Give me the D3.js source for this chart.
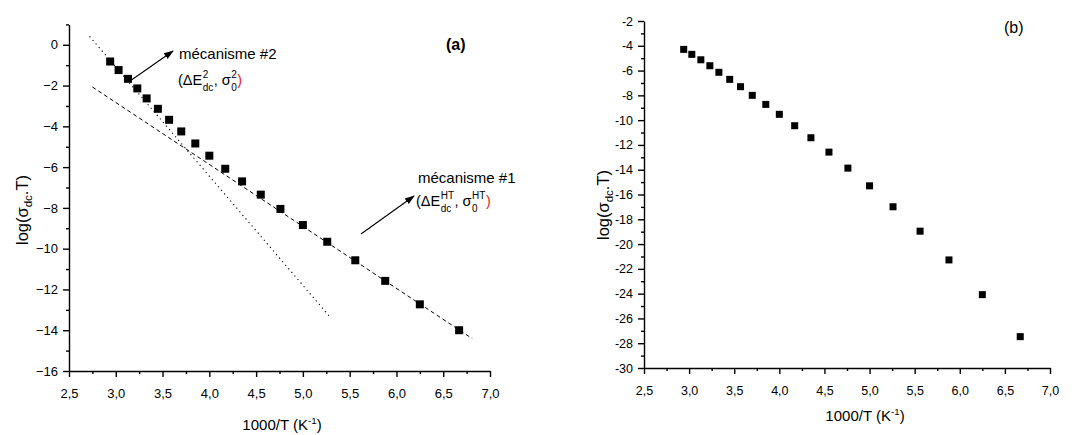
<!DOCTYPE html>
<html>
<head>
<meta charset="utf-8">
<script src="https://cdnjs.cloudflare.com/ajax/libs/d3/7.8.5/d3.min.js"></script>
<style>
  body { margin: 0; background: #fff; }
  svg text { font-family: "Liberation Sans", Arial, sans-serif; fill: #000; }
</style>
</head>
<body>
<div id="chart"></div>
<script>
// 1000/T values (K^-1), shared by both panels
const invT = [2.94, 3.03, 3.13, 3.23, 3.33, 3.45, 3.57, 3.70, 3.85, 4.00,
              4.17, 4.35, 4.55, 4.76, 5.00, 5.26, 5.56, 5.88, 6.25, 6.67];

// panel (a) log(sigma_dc.T)
const logA = [-0.82, -1.24, -1.67, -2.14, -2.63, -3.14, -3.68, -4.25, -4.84, -5.44,
              -6.08, -6.70, -7.35, -8.05, -8.84, -9.66, -10.57, -11.58, -12.73, -14.00];

// panel (b) log(sigma_dc.T)
const logB = [-4.29, -4.69, -5.13, -5.61, -6.14, -6.71, -7.30, -8.00, -8.73, -9.53,
              -10.45, -11.42, -12.58, -13.87, -15.30, -16.99, -18.96, -21.28, -24.08, -27.47];

// fitted straight lines in panel (a), end points
const mech1X = [2.75, 6.81];
const mech1Y = [-2.07, -14.41];
const mech2X = [2.72, 5.29];
const mech2Y = [0.41, -13.35];

const xTicks = [2.5, 3.0, 3.5, 4.0, 4.5, 5.0, 5.5, 6.0, 6.5, 7.0];
const xMinor = [2.75, 3.25, 3.75, 4.25, 4.75, 5.25, 5.75, 6.25, 6.75];
const yTicksA = [0, -2, -4, -6, -8, -10, -12, -14, -16];
const yMinorA = [1, -1, -3, -5, -7, -9, -11, -13, -15];
const yTicksB = [-2, -4, -6, -8, -10, -12, -14, -16, -18, -20, -22, -24, -26, -28, -30];
const yMinorB = [-3, -5, -7, -9, -11, -13, -15, -17, -19, -21, -23, -25, -27, -29];

const W = 1083, H = 435;
const svg = d3.select('#chart').append('svg').attr('width', W).attr('height', H);

svg.append('defs').append('marker')
  .attr('id', 'arrow')
  .attr('viewBox', '0 0 10 10')
  .attr('refX', 9).attr('refY', 5)
  .attr('markerWidth', 10).attr('markerHeight', 10)
  .attr('markerUnits', 'userSpaceOnUse')
  .attr('orient', 'auto')
  .append('path').attr('d', 'M0,1.5 L10,5 L0,8.5 Z').attr('fill', '#000');

const commaFmt = d => d3.format('.1f')(d).replace('.', ',');
const minusFmt = d => String(d).replace('-', '\u2212');
const intFmt = d => String(d);

function drawAxes(x, y, yMajor, yMinor, fontSize, yFmt) {
  const gx = svg.append('g').attr('transform', `translate(0,${y.range()[0]})`);
  gx.call(d3.axisBottom(x).tickValues(xTicks).tickFormat(commaFmt)
    .tickSize(6).tickSizeOuter(0).tickPadding(12));
  gx.append('g').call(d3.axisBottom(x).tickValues(xMinor).tickFormat('').tickSize(3))
    .select('.domain').remove();

  const gy = svg.append('g').attr('transform', `translate(${x.range()[0]},0)`);
  gy.call(d3.axisLeft(y).tickValues(yMajor).tickFormat(yFmt)
    .tickSize(6).tickSizeOuter(0).tickPadding(5));
  gy.append('g').call(d3.axisLeft(y).tickValues(yMinor).tickFormat('').tickSize(3))
    .select('.domain').remove();

  [gx, gy].forEach(g => {
    g.selectAll('text').style('font-size', fontSize + 'px')
      .style('font-family', '"Liberation Sans", Arial, sans-serif');
    g.selectAll('path, line').attr('stroke', '#000').attr('stroke-width', 1.4);
  });
}

// Text with stacked super/subscripts (Origin style)
function richText(x0, y0, parts, size) {
  let cx = x0;
  parts.forEach(p => {
    if (p.t) {
      const t = svg.append('text').attr('x', cx).attr('y', y0)
        .style('font-size', size + 'px').style('fill', p.color || '#000').text(p.t);
      cx += t.node().getComputedTextLength();
    }
    if (p.sup || p.sub) {
      let w = 0;
      if (p.sup) {
        const s = svg.append('text').attr('x', cx + 0.5).attr('y', y0 - 7)
          .style('font-size', '10px').text(p.sup);
        w = Math.max(w, s.node().getComputedTextLength());
      }
      if (p.sub) {
        const s = svg.append('text').attr('x', cx + 0.5).attr('y', y0 + 6)
          .style('font-size', '10px').text(p.sub);
        w = Math.max(w, s.node().getComputedTextLength());
      }
      cx += w + 1;
    }
  });
}

function yLabel(cx, cy, size) {
  const t = svg.append('text')
    .attr('transform', `translate(${cx},${cy}) rotate(-90)`)
    .attr('text-anchor', 'middle').style('font-size', size + 'px');
  t.append('tspan').text('log(σ');
  t.append('tspan').attr('dy', 4).style('font-size', (size * 0.7) + 'px').text('dc');
  t.append('tspan').attr('dy', -4).text('.T)');
}

function xLabel(cx, by, size) {
  const t = svg.append('text').attr('x', cx).attr('y', by)
    .attr('text-anchor', 'middle').style('font-size', size + 'px');
  t.append('tspan').text('1000/T (K');
  t.append('tspan').attr('dy', -6).style('font-size', (size * 0.65) + 'px').text('-1');
  t.append('tspan').attr('dy', 6).text(')');
}

// ---------- panel (a) ----------
const xA = d3.scaleLinear().domain([2.5, 7]).range([69, 490]);
const yA = d3.scaleLinear().domain([-16, 1]).range([371, 24.4]);

const line = (x, y) => d3.line().x(d => x(d[0])).y(d => y(d[1]));

svg.append('path').datum(d3.zip(mech1X, mech1Y))
  .attr('d', line(xA, yA)).attr('fill', 'none')
  .attr('stroke', '#000').attr('stroke-width', 1).attr('stroke-dasharray', '4,3');
svg.append('path').datum(d3.zip(mech2X, mech2Y))
  .attr('d', line(xA, yA)).attr('fill', 'none')
  .attr('stroke', '#000').attr('stroke-width', 1.1).attr('stroke-dasharray', '1.2,3.5');

svg.append('g').selectAll('rect')
  .data(d3.zip(invT, logA))
  .enter().append('rect')
  .attr('x', d => xA(d[0]) - 4).attr('y', d => yA(d[1]) - 4)
  .attr('width', 8).attr('height', 8).attr('fill', '#000');

drawAxes(xA, yA, yTicksA, yMinorA, 13, minusFmt);
yLabel(28, 210, 16.5);
xLabel(282, 430, 15);

svg.append('text').attr('x', 446).attr('y', 50)
  .style('font-size', '16px').style('font-weight', 'bold').text('(a)');

// annotation mécanisme #2
svg.append('line').attr('x1', 130).attr('y1', 81).attr('x2', 173).attr('y2', 51)
  .attr('stroke', '#000').attr('stroke-width', 1.1).attr('marker-end', 'url(#arrow)');
svg.append('text').attr('x', 179).attr('y', 59).style('font-size', '15px').text('mécanisme #2');
richText(178, 85, [
  { t: '(ΔE', sup: '2', sub: 'dc' },
  { t: ', σ', sup: '2', sub: '0' },
  { t: ')', color: '#e8211c' }
], 14.5);

// annotation mécanisme #1
svg.append('line').attr('x1', 361).attr('y1', 234).attr('x2', 414).attr('y2', 196)
  .attr('stroke', '#000').attr('stroke-width', 1.1).attr('marker-end', 'url(#arrow)');
svg.append('text').attr('x', 418).attr('y', 183).style('font-size', '15px').text('mécanisme #1');
richText(416, 206, [
  { t: '(ΔE', sup: 'HT', sub: 'dc' },
  { t: ', σ', sup: 'HT', sub: '0' },
  { t: ')', color: '#e8211c' }
], 14.5);

// ---------- panel (b) ----------
const xB = d3.scaleLinear().domain([2.5, 7]).range([644, 1050]);
const yB = d3.scaleLinear().domain([-30, -2]).range([368, 21]);

svg.append('g').selectAll('rect')
  .data(d3.zip(invT, logB))
  .enter().append('rect')
  .attr('x', d => xB(d[0]) - 3.5).attr('y', d => yB(d[1]) - 3.5)
  .attr('width', 7).attr('height', 7).attr('fill', '#000');

drawAxes(xB, yB, yTicksB, yMinorB, 12.5, intFmt);
yLabel(609, 205, 16.5);
xLabel(865, 421, 15);

svg.append('text').attr('x', 1004).attr('y', 33).style('font-size', '16px').text('(b)');
</script>
</body>
</html>
